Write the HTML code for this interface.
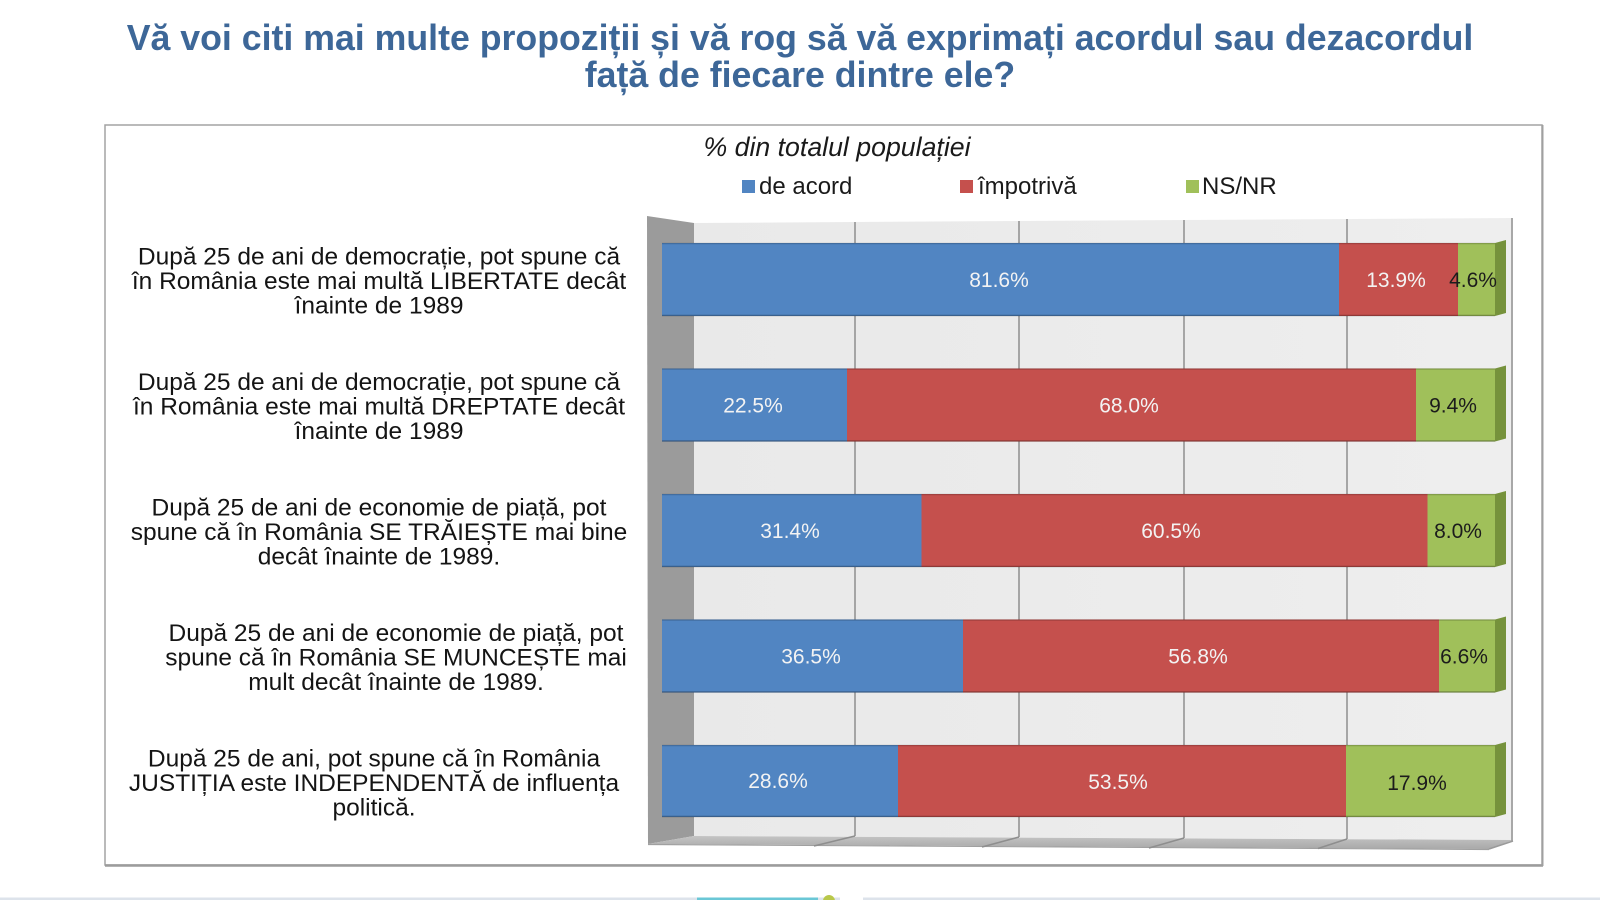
<!DOCTYPE html>
<html>
<head>
<meta charset="utf-8">
<style>
  html, body { margin:0; padding:0; background:#ffffff; }
  body { width:1600px; height:900px; overflow:hidden; position:relative; }
  svg { position:absolute; left:0; top:0; }
  .t { font-family:"Liberation Sans", Arial, sans-serif; }
</style>
</head>
<body>
<svg width="1600" height="900" viewBox="0 0 1600 900" xmlns="http://www.w3.org/2000/svg">
  <defs>
    <linearGradient id="wall" x1="0" y1="0" x2="1" y2="0">
      <stop offset="0" stop-color="#e9e9e9"/>
      <stop offset="1" stop-color="#eeeeee"/>
    </linearGradient>
    <linearGradient id="floor" x1="0" y1="0" x2="0" y2="1">
      <stop offset="0" stop-color="#c4c4c4"/>
      <stop offset="1" stop-color="#a9a9a9"/>
    </linearGradient>
  </defs>

  <!-- Title -->
  <g class="t" font-weight="bold" font-size="35.7" fill="#3d6798" text-anchor="middle">
    <text x="800" y="50">Vă voi citi mai multe propoziții și vă rog să vă exprimați acordul sau dezacordul</text>
    <text x="800" y="87">față de fiecare dintre ele?</text>
  </g>

  <!-- Frame -->
  <rect x="105" y="125" width="1437" height="740" fill="#ffffff" stroke="#a3a3a3" stroke-width="1.5"/>
  <line x1="105" y1="865.5" x2="1543" y2="865.5" stroke="#9c9c9c" stroke-width="2.5"/>
  <line x1="1542.5" y1="125" x2="1542.5" y2="866" stroke="#a0a0a0" stroke-width="2"/>

  <!-- Subtitle -->
  <text class="t" x="837" y="156" font-size="26.7" font-style="italic" fill="#1a1a1a" text-anchor="middle">% din totalul populației</text>

  <!-- Legend -->
  <g class="t" font-size="24" fill="#1a1a1a">
    <rect x="742" y="180" width="13" height="13" fill="#5185c2"/>
    <text x="759" y="194">de acord</text>
    <rect x="960" y="180" width="13" height="13" fill="#c5504d"/>
    <text x="978" y="194">împotrivă</text>
    <rect x="1186" y="180" width="13" height="13" fill="#a0c05a"/>
    <text x="1202" y="194">NS/NR</text>
  </g>

  <!-- 3D walls -->
  <polygon points="694,223 1512,218 1512,840 694,836" fill="url(#wall)"/>
  <polygon points="647,216 694,223 694,836 648,844" fill="#9b9b9b"/>
  <polygon points="648,844 694,836 1513,840 1489,849" fill="url(#floor)"/>
  <line x1="1512" y1="218" x2="1512" y2="841" stroke="#a8a8a8" stroke-width="2"/>
  <line x1="1489" y1="849" x2="1513" y2="841" stroke="#9a9a9a" stroke-width="1.5"/>
  <line x1="648" y1="844.5" x2="1489" y2="849.5" stroke="#a0a0a0" stroke-width="1.2"/>

  <!-- Gridlines -->
  <g stroke="#8e8e8e" stroke-width="1.5">
    <line x1="855" y1="222" x2="855" y2="836"/>
    <line x1="1019" y1="221" x2="1019" y2="837"/>
    <line x1="1184" y1="220" x2="1184" y2="838"/>
    <line x1="1347" y1="219" x2="1347" y2="839"/>
    <line x1="855" y1="836" x2="814" y2="846"/>
    <line x1="1019" y1="837" x2="982" y2="847"/>
    <line x1="1184" y1="838" x2="1149" y2="848"/>
    <line x1="1347" y1="839" x2="1318" y2="848.5"/>
  </g>

  <!-- Bars -->
  <!-- bar 1 -->
  <g>
    <rect x="662" y="243" width="677" height="73" fill="#5185c2"/>
    <rect x="1339" y="243" width="119" height="73" fill="#c5504d"/>
    <rect x="1458" y="243" width="37" height="73" fill="#a0c05a"/>
    <polygon points="1495,243 1506,240 1506,313 1495,316" fill="#76923c"/>
    <line x1="662" y1="243.5" x2="1495" y2="243.5" stroke="#000" stroke-opacity="0.18" stroke-width="1.5"/>
    <line x1="662" y1="315.5" x2="1495" y2="315.5" stroke="#000" stroke-opacity="0.28" stroke-width="1.5"/>
  </g>
  <!-- bar 2 -->
  <g>
    <rect x="662" y="368.5" width="185" height="73" fill="#5185c2"/>
    <rect x="847" y="368.5" width="569" height="73" fill="#c5504d"/>
    <rect x="1416" y="368.5" width="79" height="73" fill="#a0c05a"/>
    <polygon points="1495,368.5 1506,365.5 1506,438.5 1495,441.5" fill="#76923c"/>
    <line x1="662" y1="369" x2="1495" y2="369" stroke="#000" stroke-opacity="0.18" stroke-width="1.5"/>
    <line x1="662" y1="441" x2="1495" y2="441" stroke="#000" stroke-opacity="0.28" stroke-width="1.5"/>
  </g>
  <!-- bar 3 -->
  <g>
    <rect x="662" y="494" width="259.5" height="73" fill="#5185c2"/>
    <rect x="921.5" y="494" width="506" height="73" fill="#c5504d"/>
    <rect x="1427.5" y="494" width="67.5" height="73" fill="#a0c05a"/>
    <polygon points="1495,494 1506,491 1506,564 1495,567" fill="#76923c"/>
    <line x1="662" y1="494.5" x2="1495" y2="494.5" stroke="#000" stroke-opacity="0.18" stroke-width="1.5"/>
    <line x1="662" y1="566.5" x2="1495" y2="566.5" stroke="#000" stroke-opacity="0.28" stroke-width="1.5"/>
  </g>
  <!-- bar 4 -->
  <g>
    <rect x="662" y="619.5" width="301" height="73" fill="#5185c2"/>
    <rect x="963" y="619.5" width="476" height="73" fill="#c5504d"/>
    <rect x="1439" y="619.5" width="56" height="73" fill="#a0c05a"/>
    <polygon points="1495,619.5 1506,616.5 1506,689.5 1495,692.5" fill="#76923c"/>
    <line x1="662" y1="620" x2="1495" y2="620" stroke="#000" stroke-opacity="0.18" stroke-width="1.5"/>
    <line x1="662" y1="692" x2="1495" y2="692" stroke="#000" stroke-opacity="0.28" stroke-width="1.5"/>
  </g>
  <!-- bar 5 -->
  <g>
    <rect x="662" y="745" width="236" height="72" fill="#5185c2"/>
    <rect x="898" y="745" width="448" height="72" fill="#c5504d"/>
    <rect x="1346" y="745" width="149" height="72" fill="#a0c05a"/>
    <polygon points="1495,745 1506,742 1506,814 1495,817" fill="#76923c"/>
    <line x1="662" y1="745.5" x2="1495" y2="745.5" stroke="#000" stroke-opacity="0.18" stroke-width="1.5"/>
    <line x1="662" y1="816.5" x2="1495" y2="816.5" stroke="#000" stroke-opacity="0.28" stroke-width="1.5"/>
  </g>

  <!-- Data labels -->
  <g class="t" font-size="21" text-anchor="middle">
    <g fill="#f3f3f3">
      <text x="999" y="287">81.6%</text>
      <text x="1396" y="287">13.9%</text>
      <text x="753" y="412.5">22.5%</text>
      <text x="1129" y="412.5">68.0%</text>
      <text x="790" y="538">31.4%</text>
      <text x="1171" y="538">60.5%</text>
      <text x="811" y="663.5">36.5%</text>
      <text x="1198" y="663.5">56.8%</text>
      <text x="778" y="788">28.6%</text>
      <text x="1118" y="789">53.5%</text>
    </g>
    <g fill="#1c1c1c">
      <text x="1473" y="287">4.6%</text>
      <text x="1453" y="412.5">9.4%</text>
      <text x="1458" y="538">8.0%</text>
      <text x="1464" y="663.5">6.6%</text>
      <text x="1417" y="790">17.9%</text>
    </g>
  </g>

  <!-- Category labels -->
  <g class="t" font-size="24.5" fill="#141414" text-anchor="middle">
    <text x="379" y="264.5">După 25 de ani de democrație, pot spune că</text>
    <text x="379" y="289">în România este mai multă LIBERTATE decât</text>
    <text x="379" y="313.5">înainte de 1989</text>

    <text x="379" y="390">După 25 de ani de democrație, pot spune că</text>
    <text x="379" y="414.5">în România este mai multă DREPTATE decât</text>
    <text x="379" y="439">înainte de 1989</text>

    <text x="379" y="515.5">După 25 de ani de economie de piață, pot</text>
    <text x="379" y="540">spune că în România SE TRĂIEȘTE mai bine</text>
    <text x="379" y="564.5">decât înainte de 1989.</text>

    <text x="396" y="641">După 25 de ani de economie de piață, pot</text>
    <text x="396" y="665.5">spune că în România SE MUNCEȘTE mai</text>
    <text x="396" y="690">mult decât înainte de 1989.</text>

    <text x="374" y="766.5">După 25 de ani, pot spune că în România</text>
    <text x="374" y="791">JUSTIȚIA este INDEPENDENTĂ de influența</text>
    <text x="374" y="815.5">politică.</text>
  </g>

  <!-- bottom strip -->
  <rect x="0" y="897.5" width="840" height="2.5" fill="#dde3eb"/>
  <rect x="863" y="897.5" width="737" height="2.5" fill="#dde3eb"/>
  <rect x="697" y="897.5" width="121" height="2.5" fill="#6ac7d6"/>
  <circle cx="829" cy="901" r="6" fill="#b9c84a"/>
</svg>
</body>
</html>
